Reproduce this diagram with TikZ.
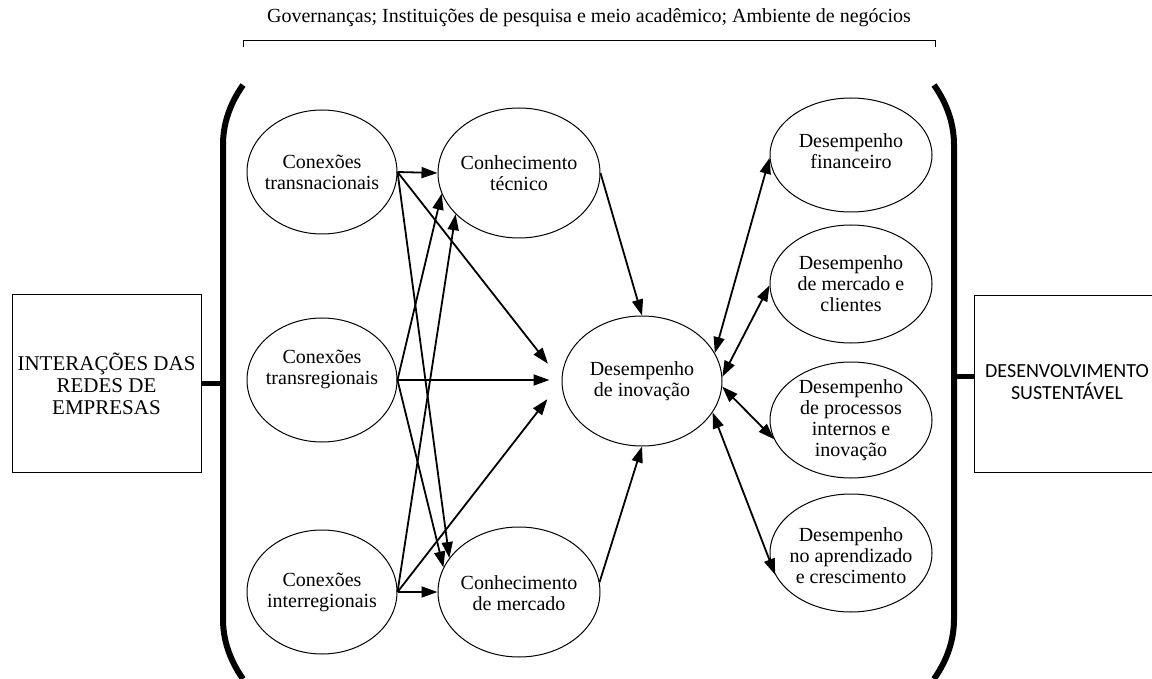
\documentclass[tikz,border=0pt]{standalone}
\usepackage{fontspec}
\setmainfont{Liberation Serif}
\newfontfamily\serifface{Liberation Serif}
\newfontfamily\boxsans{Carlito}
\usetikzlibrary{arrows.meta,shapes.geometric}
\begin{document}
\begin{tikzpicture}[x=1pt,y=-1pt,
  oval/.style={draw, ellipse, line width=1pt, inner sep=0pt},
  lbl/.style={align=center, inner sep=0pt, font=\serifface\fontsize{20}{21}\selectfont},
  tip/.tip={Triangle[length=16pt,width=11pt]},
  link/.style={line width=1.8pt, -tip},
  duplex/.style={line width=1.8pt, tip-tip},
  paren/.style={line width=6pt},
  bar/.style={line width=5pt},
  panel/.style={draw, line width=1pt, inner sep=0pt, align=center}]
\useasboundingbox (0,0) rectangle (1152,679);

% caption over the central block
\node[font=\serifface\fontsize{20}{24}\selectfont, inner sep=0pt] (gov) at (589,18)
  {Governanças; Instituições de pesquisa e meio acadêmico; Ambiente de negócios};
\coordinate (bl) at (243,41);
\coordinate (br) at (935,41);
\draw[line width=1pt] ([yshift=-6pt]bl) -- (bl) -- (br) -- ([yshift=-6pt]br);

% side boxes
\node[panel, minimum width=189pt, minimum height=177pt,
      font=\serifface\fontsize{21}{22}\selectfont] (inter) at (106.5,383.5)
  {INTERAÇÕES DAS\\REDES DE\\EMPRESAS};
\node[panel, minimum width=186pt, minimum height=176pt,
      font=\boxsans\fontsize{20}{21}\selectfont] (desenv) at (1067,384)
  {\raisebox{-6pt}{\begin{tabular}{@{}c@{}}DESENVOLVIMENTO\\[-1pt]SUSTENTÁVEL\end{tabular}}};

% large round brackets around the model
\coordinate (lp) at (223,383);
\coordinate (rp) at (954,376);
\draw[paren] (243,85) .. controls (229,105) and (223,125) .. (223,145)
  -- (223,619) .. controls (223,639) and (229,659) .. (243,679);
\draw[paren] (934,85) .. controls (948,105) and (954,125) .. (954,145)
  -- (954,619) .. controls (954,639) and (948,659) .. (934,679);
\draw[bar] (inter.east |- lp) -- (lp);
\draw[bar] (rp) -- (rp -| desenv.west);

% connection types
\node[oval, minimum width=150pt, minimum height=124pt] (ct) at (322,172) {};
\node[oval, minimum width=150pt, minimum height=124pt] (cr) at (322,380) {};
\node[oval, minimum width=150pt, minimum height=124pt] (ci) at (322,592) {};
\node[lbl] (ct-t) at (ct) {Conexões\\transnacionais};
\node[lbl, yshift=11pt] (cr-t) at (cr) {Conexões\\transregionais};
\node[lbl] (ci-t) at (ci) {Conexões\\interregionais};

% knowledge
\node[oval, minimum width=162pt, minimum height=130pt] (kt) at (519,173) {};
\node[oval, minimum width=162pt, minimum height=130pt] (km) at (519,592) {};
\node[lbl] (kt-t) at (kt) {Conhecimento\\técnico};
\node[lbl, yshift=-1pt] (km-t) at (km) {Conhecimento\\de mercado};

% innovation
\node[oval, minimum width=160pt, minimum height=130pt] (di) at (642,381) {};
\node[lbl] (di-t) at (di) {Desempenho\\de inovação};

% performance dimensions
\node[oval, minimum width=162pt, minimum height=114pt] (df) at (851,155) {};
\node[oval, minimum width=162pt, minimum height=118pt] (dm) at (851,284) {};
\node[oval, minimum width=162pt, minimum height=116pt] (dp) at (851,420) {};
\node[oval, minimum width=162pt, minimum height=118pt] (da) at (851,553) {};
\node[lbl, yshift=4pt] (df-t) at (df) {Desempenho\\financeiro};
\node[lbl] (dm-t) at (dm) {Desempenho\\de mercado e\\clientes};
\node[lbl] (dp-t) at (dp) {Desempenho\\de processos\\internos e\\inovação};
\node[lbl, yshift=-3pt] (da-t) at (da) {Desempenho\\no aprendizado\\e crescimento};

% connections to knowledge and innovation
\draw[link] (ct.east) -- (kt.west);
\draw[link] (ct.east) -- (km.154);
\draw[link, shorten >=22pt] (ct.east) -- (di.west);
\draw[link] (cr.east) -- (kt.195);
\draw[link, shorten >=12pt] (cr.east) -- (cr.east -| di.west);
\draw[link] (cr.east) -- (km.162);
\draw[link] (ci.east) -- (kt.213);
\draw[link, shorten >=23pt] (ci.east) -- (di.west);
\draw[link] (ci.east) -- (km.west);
\draw[link] (kt.east) -- (di.north);
\draw[link] (km.7) -- (di.south);

% innovation and performance
\draw[duplex] (di.21) -- (df.182);
\draw[duplex] (di.3) -- (dm.181);
\draw[duplex] (di.356) -- (dp.194);
\draw[duplex] (di.336) -- (da.196);
\end{tikzpicture}
\end{document}
